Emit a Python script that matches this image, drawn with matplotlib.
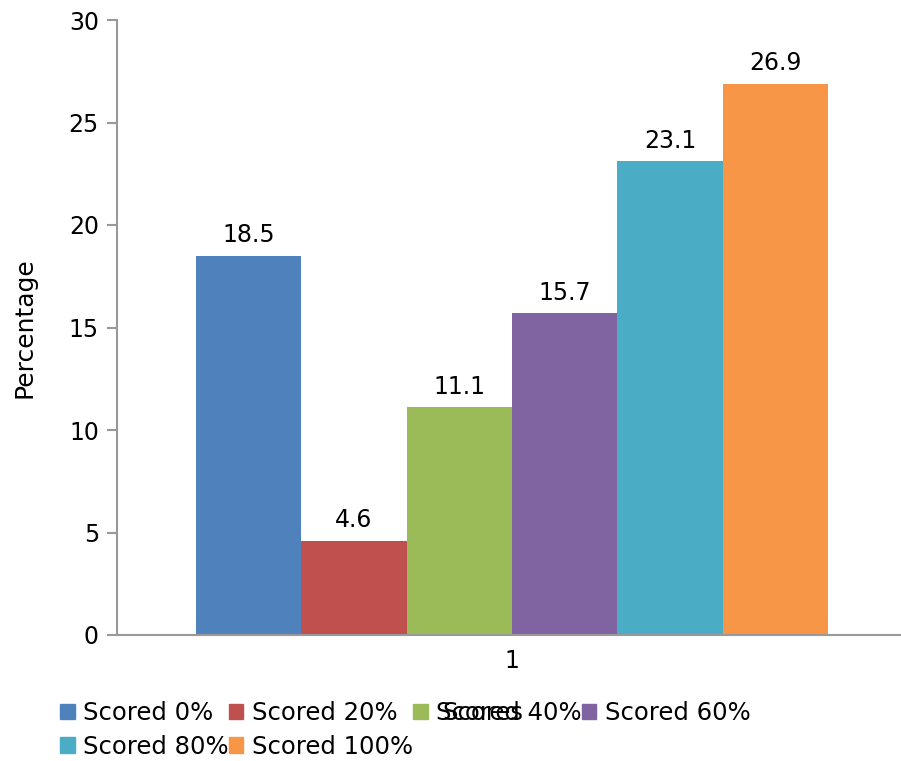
import matplotlib
matplotlib.use("Agg")
import matplotlib.pyplot as plt
from matplotlib.patches import Patch

categories = ["1"]
series_names = ["Scored 0%", "Scored 20%", "Scored 40%", "Scored 60%", "Scored 80%", "Scored 100%"]
values = [18.5, 4.6, 11.1, 15.7, 23.1, 26.9]
colors = ["#4F81BD", "#C0504D", "#9BBB59", "#8064A2", "#4BACC6", "#F79646"]
y_ticks = [0, 5, 10, 15, 20, 25, 30]

plt.rcParams["font.family"] = ["DejaVu Sans"]
W, H = 901, 761
fig = plt.figure(figsize=(W / 100, H / 100), dpi=100)
ax = fig.add_axes([117 / W, 1 - 635 / H, 790 / W, 615 / H])

n = len(series_names)
group_width = 0.8
bw = group_width / n
for i, (name, v, c) in enumerate(zip(series_names, values, colors)):
    x = 1 + (i - (n - 1) / 2) * bw
    ax.bar(x, v, width=bw, color=c, label=name)
    ax.annotate(f"{v}", (x, v), xytext=(0, 6), textcoords="offset points",
                ha="center", va="bottom", fontsize=17)

ax.set_xlim(0.5, 1.5)
ax.set_ylim(0, 30)
ax.set_yticks(y_ticks)
ax.set_xticks([1])
ax.set_xticklabels(categories)

grey = "#999999"
for s in ["top", "right"]:
    ax.spines[s].set_visible(False)
for s in ["left", "bottom"]:
    ax.spines[s].set_color(grey)
    ax.spines[s].set_linewidth(1.5)
ax.tick_params(axis="y", direction="out", length=7, width=1.5, color=grey,
               labelsize=17, pad=6)
ax.tick_params(axis="x", length=0, labelsize=17, pad=10)

ax.set_ylabel("Percentage", fontsize=18)
ax.yaxis.set_label_coords(-(117 - 37) / 790, 0.5)

fig.text(483 / W, 1 - 713 / H, "Scores", ha="center", va="center", fontsize=17.5)

handles = [Patch(color=c, label=nm) for nm, c in zip(series_names, colors)]
order = [0, 4, 1, 5, 2, 3]
leg = fig.legend([handles[i] for i in order], [series_names[i] for i in order],
                 ncol=4, loc="upper left", bbox_to_anchor=(60 / W, 1 - 701 / H),
                 frameon=False, fontsize=17.5, handlelength=0.6, handleheight=0.6,
                 handletextpad=0.35, columnspacing=0.0, labelspacing=0.4,
                 borderaxespad=0, borderpad=0)

fig.savefig("out.png", dpi=100)
